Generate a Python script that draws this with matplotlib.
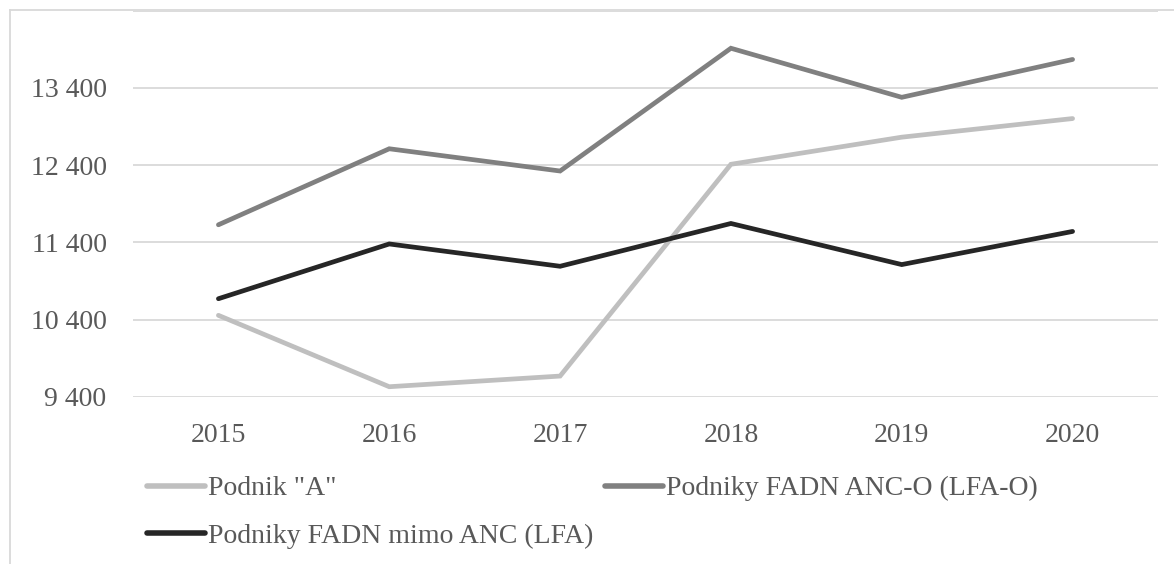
import matplotlib
matplotlib.use("Agg")
import matplotlib.pyplot as plt
from matplotlib.lines import Line2D
from matplotlib.ticker import FuncFormatter

plt.rcParams['font.family'] = ['Liberation Serif', 'DejaVu Serif']

years = ['2015', '2016', '2017', '2018', '2019', '2020']
podnik_a = [10457, 9533, 9671, 12412, 12763, 13004]
anc_o = [11629, 12613, 12325, 13914, 13279, 13769]
mimo_anc = [10672, 11381, 11092, 11646, 11114, 11543]
yticks = [9400, 10400, 11400, 12400, 13400, 14400]

fig = plt.figure(figsize=(11.74, 5.64), dpi=100)
ax = fig.add_axes([133 / 1174, 1 - 397 / 564, (1158 - 133) / 1174, (397 - 10.7) / 564])

x = range(len(years))
lw = 3.4
ax.plot(x, podnik_a, color='#BFBFBF', lw=lw, solid_capstyle='round', solid_joinstyle='miter', label='Podnik "A"')
ax.plot(x, anc_o, color='#808080', lw=lw, solid_capstyle='round', solid_joinstyle='miter', label='Podniky FADN ANC-O (LFA-O)')
ax.plot(x, mimo_anc, color='#262626', lw=lw, solid_capstyle='round', solid_joinstyle='miter', label='Podniky FADN mimo ANC (LFA)')

ax.set_xlim(-0.5, len(years) - 0.5)
ax.set_ylim(9400, 14400)
ax.set_yticks(yticks)
ax.yaxis.set_major_formatter(FuncFormatter(lambda v, p: '' if v > 13400 else f'{int(v):,}'.replace(',', ' ')))
ax.set_xticks(list(x))
ax.set_xticklabels(years)
ax.grid(axis='y', color='#D9D9D9', lw=1.3)
ax.set_axisbelow(True)
for s in ax.spines.values():
    s.set_visible(False)
ax.tick_params(axis='both', length=0, labelsize=20, colors='#595959')
ax.tick_params(axis='y', pad=19)
ax.tick_params(axis='x', pad=19)

# chart border (cropped on right / bottom)
fig.add_artist(Line2D([10 / 1174, 10 / 1174], [0, 1 - 10 / 564], color='#D9D9D9', lw=1.3))
fig.add_artist(Line2D([10 / 1174, 1], [1 - 10 / 564, 1 - 10 / 564], color='#D9D9D9', lw=1.3))

h, l = ax.get_legend_handles_labels()
order = [0, 2, 1]
leg = fig.legend([h[i] for i in order], [l[i] for i in order], ncol=2,
                 loc='upper left', bbox_to_anchor=(147 / 1174, 1 - 476 / 564),
                 frameon=False, fontsize=20, handlelength=2.1, handletextpad=0.1,
                 columnspacing=0.4, labelspacing=0.8, borderaxespad=0, borderpad=0)
for t in leg.get_texts():
    t.set_color('#595959')
for hl in leg.get_lines():
    hl.set_linewidth(4)

fig.savefig('out.png', dpi=100)
